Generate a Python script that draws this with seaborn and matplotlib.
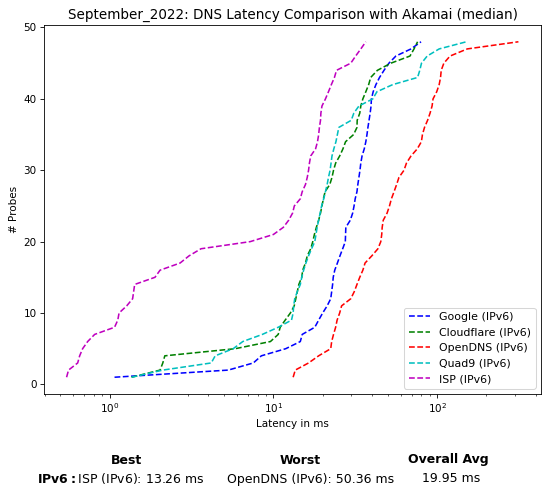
import numpy as np
import pandas as pd
import matplotlib
matplotlib.use("Agg")
import matplotlib.pyplot as plt
import seaborn as sns

# sorted median latencies (ms) per probe
google = [1.07, 5.3, 7.54, 8.44, 11.9, 14.6, 15.0, 17.9, 18.9, 20.0,
          21.3, 22.4, 22.7, 23.0, 23.2, 23.7, 24.6, 25.5, 26.5, 27.5,
          27.6, 27.7, 29.5, 30.5, 31.1, 31.6, 32.4, 32.8, 33.3, 33.8,
          34.2, 34.8, 35.9, 36.7, 37.3, 37.8, 38.4, 39.0, 39.5, 39.7,
          40.7, 42.3, 44.5, 47.4, 50.8, 56.0, 69.3, 79.8]
cloudflare = [1.36, 2.03, 2.11, 2.17, 5.85, 9.59, 10.7, 11.0, 11.8, 12.7,
              13.4, 13.7, 14.0, 14.3, 14.9, 15.1, 15.7, 16.1, 16.9, 17.4,
              17.8, 18.3, 18.9, 19.4, 19.8, 20.2, 20.7, 22.1, 22.8, 23.3,
              24.0, 25.4, 26.6, 27.6, 30.9, 32.4, 32.5, 33.7, 34.2, 35.2,
              36.7, 38.2, 39.3, 43.2, 52.2, 68.3, 72.3, 76.0]
opendns = [13.2, 13.6, 16.4, 18.9, 22.4, 22.7, 23.3, 24.0, 24.5, 25.4,
           26.1, 29.7, 31.2, 32.4, 33.7, 35.2, 36.3, 39.9, 43.5, 45.3,
           45.9, 46.2, 46.9, 49.5, 51.2, 52.6, 54.6, 56.6, 58.5, 62.8,
           65.0, 69.3, 75.7, 80.2, 81.4, 83.8, 87.5, 90.6, 93.2, 94.5,
           99.5, 103, 105, 106, 110, 120, 153, 314]
quad9 = [1.36, 2.11, 4.17, 4.41, 5.68, 6.50, 8.56, 10.7, 12.9, 13.2,
         13.3, 13.5, 14.0, 14.6, 14.9, 15.3, 15.8, 16.4, 17.1, 17.9,
         18.2, 18.5, 18.9, 19.3, 19.7, 20.3, 20.8, 21.3, 21.7, 22.2,
         22.5, 22.8, 23.4, 24.1, 24.6, 25.1, 29.9, 31.0, 33.3, 40.5,
         42.9, 53.6, 76.0, 78.4, 80.3, 87.0, 103, 151]
isp = [0.545, 0.56, 0.637, 0.655, 0.683, 0.733, 0.809, 1.07, 1.12, 1.14,
       1.27, 1.38, 1.40, 1.42, 1.89, 2.03, 2.69, 3.05, 3.61, 7.22,
       10.0, 11.5, 12.4, 13.1, 13.42, 14.6, 15.0, 15.7, 16.1, 16.4,
       16.6, 16.9, 18.1, 18.6, 18.9, 19.1, 19.4, 19.5, 19.8, 20.8,
       21.7, 22.6, 23.6, 24.3, 29.7, 31.8, 34.2, 36.7]
probes = list(range(1, 49))

resolvers = ["Google (IPv6)", "Cloudflare (IPv6)", "OpenDNS (IPv6)",
             "Quad9 (IPv6)", "ISP (IPv6)"]
series = [google, cloudflare, opendns, quad9, isp]
colors = ["b", "g", "r", "c", "m"]

best_label = "ISP (IPv6): 13.26 ms"
worst_label = "OpenDNS (IPv6): 50.36 ms"
overall_avg = "19.95 ms"

df = pd.concat([pd.DataFrame({"latency": s, "probes": probes, "resolver": name})
                for name, s in zip(resolvers, series)])

fig = plt.figure(figsize=(548 / 75, 496 / 75), dpi=75)
ax = fig.add_axes([44 / 548, 102 / 496, 497 / 548, 369 / 496])
for name, color in zip(resolvers, colors):
    sub = df[df["resolver"] == name]
    sns.lineplot(data=sub, x="latency", y="probes", ax=ax, color=color,
                 linestyle="--", sort=False, estimator=None, label=name)
ax.set_xscale("log")
ax.set_xlabel("Latency in ms")
ax.set_ylabel("# Probes")
ax.set_title("September_2022: DNS Latency Comparison with Akamai (median)",
             fontsize=13)
ax.legend(loc="lower right", fontsize=10.5)

# summary row under the plot
fig.text(126 / 548, 1 - 460 / 496, "Best", ha="center", va="center",
         fontsize=12, fontweight="bold")
fig.text(300 / 548, 1 - 460 / 496, "Worst", ha="center", va="center",
         fontsize=12, fontweight="bold")
fig.text(448 / 548, 1 - 460 / 496, "Overall Avg", ha="center", va="center",
         fontsize=12, fontweight="bold")
fig.text(121 / 548, 1 - 479 / 496, r"$\bf{IPv6:}$" + best_label, ha="center",
         va="center", fontsize=12)
fig.text(311 / 548, 1 - 479 / 496, worst_label, ha="center", va="center",
         fontsize=12)
fig.text(451 / 548, 1 - 479 / 496, overall_avg, ha="center", va="center",
         fontsize=12)

fig.savefig("out.png", dpi=75)
